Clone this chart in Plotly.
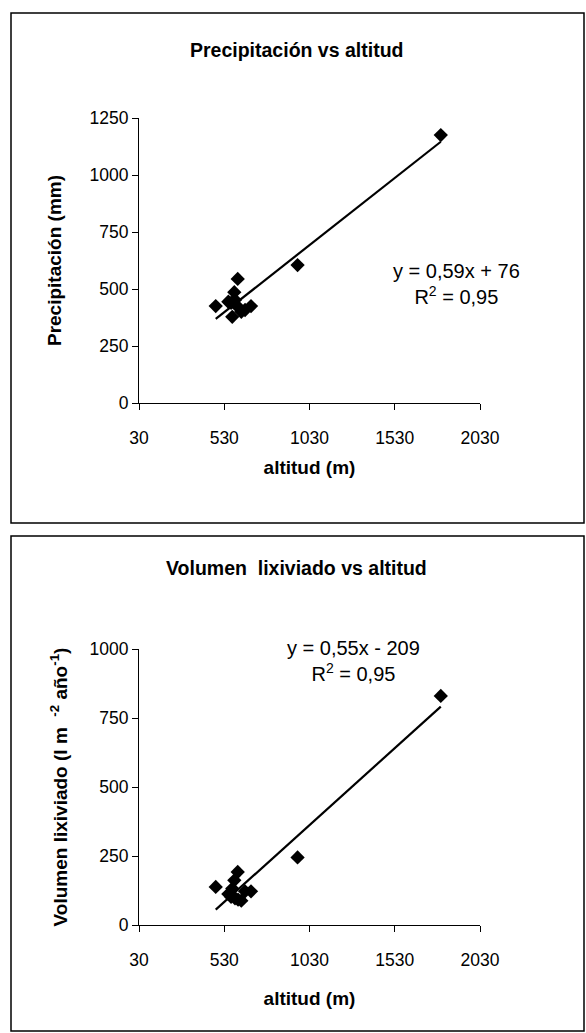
import numpy as np
import plotly.graph_objects as go

# ---- data ----
altitud = [480, 554, 570, 577, 589, 593, 609, 611, 630, 652, 687, 960, 1800]
precipitacion = [425, 444, 439, 378, 486, 452, 544, 421, 400, 408, 425, 605, 1175]
volumen = [138, 112, 102, 132, 162, 97, 192, 92, 88, 122, 122, 245, 830]
x_ticks = [30, 530, 1030, 1530, 2030]
y1_ticks = [0, 250, 500, 750, 1000, 1250]
y2_ticks = [0, 250, 500, 750, 1000]

W, H = 586, 1033
FONT = "Liberation Sans, Arial, sans-serif"
TICK = 17.5
LAB = 19
TITLE = 19.5
EQ = 20

def fit(x, y):
    m, b = np.polyfit(x, y, 1)
    xs = np.array([min(x), max(x)])
    return xs, m * xs + b

fig = go.Figure()

for yy, ax in [(precipitacion, ""), (volumen, "2")]:
    fig.add_trace(go.Scatter(x=altitud, y=yy, mode="markers",
                             marker=dict(symbol="diamond", size=11, color="black"),
                             xaxis="x" + ax, yaxis="y" + ax, showlegend=False))
    fx, fy = fit(altitud, yy)
    fig.add_trace(go.Scatter(x=fx, y=fy, mode="lines",
                             line=dict(color="black", width=2.2),
                             xaxis="x" + ax, yaxis="y" + ax, showlegend=False))

def px_x(p):
    return p / W

def px_y(p):
    return 1 - p / H

xdom = [px_x(139), px_x(480)]
axis_common = dict(showline=True, linecolor="black", linewidth=1, ticks="outside",
                   ticklen=6, tickcolor="black", showgrid=False, zeroline=False,
                   automargin=False,
                   tickfont=dict(family=FONT, size=TICK, color="black"))
tfont = dict(family=FONT, size=LAB, color="black")

fig.update_layout(
    width=W, height=H, margin=dict(l=0, r=0, t=0, b=0),
    paper_bgcolor="white", plot_bgcolor="white",
    xaxis=dict(domain=xdom, range=[30, 2030], tickvals=x_ticks, anchor="y",
               ticklabelstandoff=13,
               title=dict(text="<b>altitud (m)</b>", font=tfont, standoff=13),
               **axis_common),
    yaxis=dict(domain=[px_y(403), px_y(118)], range=[0, 1250], tickvals=y1_ticks, anchor="x",
               title=dict(text="<b>Precipitación (mm)</b>", font=tfont, standoff=22),
               **axis_common),
    xaxis2=dict(domain=xdom, range=[30, 2030], tickvals=x_ticks, anchor="y2",
                ticklabelstandoff=13,
                title=dict(text="<b>altitud (m)</b>", font=tfont, standoff=22),
                **axis_common),
    yaxis2=dict(domain=[px_y(925), px_y(649)], range=[0, 1000], tickvals=y2_ticks, anchor="x2",
                title=dict(text="<b>Volumen lixiviado (l m  <sup>-2</sup> año<sup>-1</sup>)</b>",
                           font=tfont, standoff=16),
                **axis_common),
)

# frames
fig.add_shape(type="rect", xref="paper", yref="paper", x0=px_x(11), x1=px_x(584),
              y0=px_y(523), y1=px_y(13), line=dict(color="black", width=1.5))
fig.add_shape(type="rect", xref="paper", yref="paper", x0=px_x(11), x1=px_x(584),
              y0=px_y(1031), y1=px_y(536), line=dict(color="black", width=1.5))

def note(text, x, y, size):
    fig.add_annotation(text=text, xref="paper", yref="paper", x=px_x(x), y=px_y(y),
                       xanchor="center", yanchor="middle", showarrow=False, align="center",
                       font=dict(family=FONT, size=size, color="black"))

# titles
note("<b>Precipitación vs altitud</b>", 296, 50, TITLE)
note("<b>Volumen  lixiviado vs altitud</b>", 296, 568, TITLE)

# equations
note("y = 0,59x + 76<br>R<sup>2</sup> = 0,95", 456, 284, EQ)
note("y = 0,55x - 209<br>R<sup>2</sup> = 0,95", 353, 661, EQ)

fig.write_html("out.html")
